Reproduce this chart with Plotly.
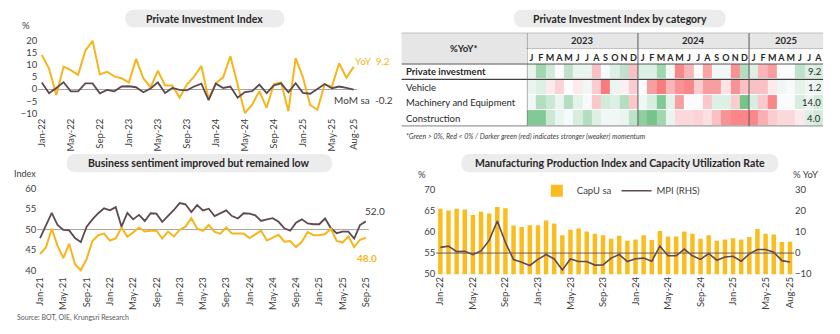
import plotly.graph_objects as go
import pandas as pd

W, H = 840, 334
def px(x): return x / W
def py(y): return 1 - y / H

FONT = "Lato"
YEL = "#F6B51B"
BAR = "#FBBC1E"
BRN = "#5D4A50"
TXT = "#404040"

# ---------------- data ----------------
pii_months = [d.strftime("%b-%y") for d in pd.date_range("2022-01-01", periods=44, freq="MS")]
pii_yoy = [14.1, 8.5, -2.4, 9.3, 7.9, 5.9, 15.9, 20.0, 6.1, 7.2,
           5.3, 4.5, 2.8, 12.5, 4.5, 0.8, 7.6, 1.5, 1.5, -3.5,
           1.9, 5.2, 9.6, -4.1, 2.5, 4.9, 13.6, 1.5, -9.9, -6.4,
           -0.8, -7.7, 2.1, 2.8, -9.1, 12.8, 5.0, -6.5, -8.5, 2.0,
           1.0, 10.7, 4.7, 9.2]
pii_mom = [2.8, -1.7, 0.5, 2.9, -0.9, -0.9, 2.4, 2.4, -1.7, -0.3,
           -0.9, 1.1, 1.2, 0.8, -1.3, 0.3, 2.8, -1.6, 0.5, -0.3,
           -0.5, 1.1, 2.3, -4.5, 2.3, 0.5, 1.1, -3.5, -1.2, -0.8,
           1.9, -1.6, 1.6, 2.4, -1.3, 2.5, -1.5, -1.9, 0.1, 2.1,
           0.4, 1.1, 0.5, -0.2]
pii_ticks = ["Jan-22", "May-22", "Sep-22", "Jan-23", "May-23", "Sep-23", "Jan-24",
             "May-24", "Sep-24", "Jan-25", "May-25", "Aug-25"]

bsi_months = [d.strftime("%b-%y") for d in pd.date_range("2021-01-01", periods=57, freq="MS")]
bsi_next = [47.9, 51.1, 54.1, 51.1, 49.9, 49.8, 47.9, 46.9, 50.7, 52.5,
            54.0, 55.2, 54.7, 55.5, 50.7, 54.1, 52.5, 53.6, 52.1, 54.0,
            53.9, 51.9, 53.3, 54.8, 56.5, 56.2, 54.3, 56.0, 54.7, 55.1,
            53.3, 54.0, 54.7, 53.3, 52.7, 54.0, 53.9, 53.5, 52.1, 52.5,
            52.8, 51.9, 50.3, 49.7, 51.7, 52.5, 51.5, 51.3, 51.3, 52.7,
            50.3, 49.1, 49.5, 49.5, 47.8, 51.1, 52.0]
bsi_now = [44.0, 45.6, 50.2, 46.0, 43.0, 46.5, 41.5, 40.0, 42.8, 47.2,
           48.6, 49.0, 47.3, 47.8, 50.5, 48.2, 49.3, 50.5, 49.5, 49.7,
           49.7, 47.8, 49.5, 48.3, 49.9, 50.7, 52.8, 50.2, 49.7, 51.1,
           49.4, 49.0, 50.5, 49.0, 49.0, 49.0, 47.9, 48.7, 49.7, 47.3,
           47.9, 48.7, 47.0, 47.2, 45.7, 47.0, 49.4, 48.6, 48.6, 48.9,
           50.2, 47.2, 46.8, 48.3, 45.7, 47.5, 48.0]
bsi_ticks = ["Jan-21", "May-21", "Sep-21", "Jan-22", "May-22", "Sep-22", "Jan-23", "May-23",
             "Sep-23", "Jan-24", "May-24", "Sep-24", "Jan-25", "May-25", "Sep-25"]

heat_rows = ["Private investment", "Vehicle", "Machinery and Equipment", "Construction"]
heat_years = ["2023", "2024", "2025"]
heat_months = list("JFMAMJJASOND") * 2 + list("JFMAMJJA")
heat_private = [0.3, 1.5, 0.7, 0.0, 1.0, 0.3, 0.3, -1.0, 0.1, 0.5, 1.0, -1.0,
                0.5, 0.5, 1.5, 0.2, -2.0, -1.2, 0.0, -1.5, 0.2, 0.2, -1.8, 1.2,
                0.5, -1.2, -1.6, 0.05, 0.05, 1.0, 0.5, 0.6]
heat_vehicle = [0.3, 0.5, -0.3, -0.7, 0.0, -0.3, 0.2, -0.8, -2.2, 0.3, -0.2, -0.8,
                0.0, -1.6, -2.2, -1.2, -1.8, -2.0, -0.8, -1.6, -1.6, -0.4, -1.8, -1.0,
                -1.0, -1.0, -0.3, 0.2, 0.1, 0.4, 0.2, 0.3]
heat_machinery = [0.2, 1.2, 0.8, 0.3, 1.2, 0.4, 0.1, -0.9, 0.7, 0.5, 1.2, -0.9,
                  0.2, 0.6, 2.0, 0.4, -1.6, 0.05, 0.05, -0.9, 0.5, 0.5, -0.8, 2.2,
                  0.6, -0.9, -2.0, 0.05, 0.05, 0.6, 0.3, 0.7]
heat_construction = [2.0, 2.0, 0.8, 0.3, 0.1, 0.6, 1.2, 0.5, 0.2, 0.2, 0.3, 1.0,
                     1.8, 2.2, 1.5, 0.3, -0.6, -0.6, -0.7, -0.5, -1.0, -1.8, -2.0, -2.0,
                     -2.0, -1.3, -0.8, -0.6, -0.6, -0.3, 0.5, 0.7]
heat_latest = ["9.2", "1.2", "14.0", "4.0"]

mpi_months = pii_months
capu_sa = [65.5, 65.1, 65.5, 65.3, 64.0, 64.8, 64.4, 65.9, 65.6, 61.5,
           61.2, 61.6, 61.6, 62.7, 62.0, 59.2, 60.5, 60.8, 60.1, 59.6,
           59.2, 58.4, 59.1, 57.9, 58.2, 59.2, 58.1, 60.2, 58.9, 58.9,
           60.1, 59.6, 58.4, 59.2, 57.9, 58.2, 58.5, 58.2, 58.8, 60.7,
           59.6, 59.4, 57.6, 57.7]
mpi_yoy = [2.7, 3.3, 0.7, 0.8, -0.7, 1.0, 6.0, 15.2, 5.0, -3.1,
           -4.4, -5.9, -3.0, -0.7, -2.8, -8.0, -2.8, -4.0, -4.0, -5.7,
           -5.6, -2.4, -0.7, -4.0, -2.7, -2.4, -3.9, 3.3, -1.3, -1.3,
           1.9, -1.3, -3.0, -0.2, -3.4, -1.9, -1.5, -3.9, -0.4, 1.7,
           1.7, 0.4, -3.6, -4.2]

# ---------------- traces ----------------
fig = go.Figure()

fig.add_trace(go.Scatter(x=pii_months, y=pii_yoy, mode="lines", line=dict(color=YEL, width=2),
                         xaxis="x", yaxis="y", showlegend=False, hoverinfo="skip"))
fig.add_trace(go.Scatter(x=pii_months, y=pii_mom, mode="lines", line=dict(color=BRN, width=1.8),
                         xaxis="x", yaxis="y", showlegend=False, hoverinfo="skip"))

fig.add_trace(go.Scatter(x=bsi_months, y=bsi_next, mode="lines", line=dict(color=BRN, width=1.8),
                         xaxis="x2", yaxis="y2", showlegend=False, hoverinfo="skip"))
fig.add_trace(go.Scatter(x=bsi_months, y=bsi_now, mode="lines", line=dict(color=YEL, width=2),
                         xaxis="x2", yaxis="y2", showlegend=False, hoverinfo="skip"))

heat_z = [heat_private, heat_vehicle, heat_machinery, heat_construction]
fig.add_trace(go.Heatmap(z=heat_z, x=list(range(len(heat_months))), y=list(range(len(heat_rows))),
                         colorscale=[[0, "#F8696B"], [0.5, "#FCFCFF"], [1, "#63BE7B"]],
                         zmin=-2.5, zmax=2.5, showscale=False, ygap=1,
                         xaxis="x3", yaxis="y3", hoverinfo="skip"))

fig.add_trace(go.Bar(x=mpi_months, y=capu_sa, marker=dict(color=BAR, line=dict(width=0)), width=0.55,
                     name="CapU sa", xaxis="x4", yaxis="y4", hoverinfo="skip"))
fig.add_trace(go.Scatter(x=mpi_months, y=mpi_yoy, mode="lines", line=dict(color=BRN, width=1.6),
                         name="MPI (RHS)", xaxis="x4", yaxis="y5", hoverinfo="skip"))

tickfont = dict(family=FONT, size=9.5, color=TXT)
xcommon = dict(showgrid=False, zeroline=False, showline=False, ticks="", tickangle=-90,
               tickfont=tickfont, type="category", fixedrange=True)
ycommon = dict(showgrid=False, zeroline=False, showline=False, ticks="", tickfont=tickfont, fixedrange=True)

layout = dict(
    width=W, height=H, margin=dict(l=0, r=0, t=0, b=0),
    paper_bgcolor="white", plot_bgcolor="white",
    font=dict(family=FONT, color=TXT),
    xaxis=dict(xcommon, domain=[px(35.4), px(356.4)], anchor="y", range=[-0.5, 43.5],
               tickvals=pii_ticks, ticktext=pii_ticks),
    yaxis=dict(ycommon, domain=[py(113.5), py(33.5)], anchor="x", range=[-11, 21],
               tickvals=[-10, -5, 0, 5, 10, 15, 20], zeroline=True, zerolinecolor="#A6A6A6", zerolinewidth=1),
    xaxis2=dict(xcommon, domain=[px(34.4), px(367.9)], anchor="y2", range=[-0.5, 56.5],
                tickvals=bsi_ticks, ticktext=bsi_ticks),
    yaxis2=dict(ycommon, domain=[py(277.5), py(184.8)], anchor="x2", range=[39, 61],
                tickvals=[40, 45, 50, 55, 60]),
    xaxis3=dict(domain=[px(527), px(825)], anchor="y3", side="top", range=[-0.5, 31.5],
                tickvals=list(range(len(heat_months))), ticktext=[f"<b>{m}</b>" for m in heat_months],
                tickangle=0, showgrid=False, zeroline=False, showline=False, ticks="",
                tickfont=dict(family=FONT, size=9, color="#262626"), fixedrange=True),
    yaxis3=dict(domain=[py(124), py(60)], anchor="x3", range=[3.5, -0.5], showticklabels=False,
                showgrid=False, zeroline=False, showline=False, fixedrange=True),
    xaxis4=dict(xcommon, domain=[px(435.9), px(795.8)], anchor="y4", range=[-0.5, 43.5],
                tickvals=pii_ticks, ticktext=pii_ticks),
    yaxis4=dict(ycommon, domain=[py(277.3), py(190)], anchor="x4", range=[50, 70], dtick=5),
    yaxis5=dict(ycommon, overlaying="y4", side="right", anchor="x4", range=[-10, 30], dtick=10),
    legend=dict(orientation="h", x=px(537), y=py(176), xanchor="left", yanchor="top",
                font=dict(family=FONT, size=9.5, color=TXT), bgcolor="rgba(0,0,0,0)",
                itemwidth=30, traceorder="normal"),
    bargap=0.45,
)
fig.update_layout(**layout)

shapes = []
annotations = []

def pill(x0, y0, x1, y1, text):
    r = (y1 - y0) / 2
    rx, ry = r / W, r / H
    X0, X1 = px(x0), px(x1)
    Yt, Yb = py(y0), py(y1)
    Ym = (Yt + Yb) / 2
    path = (f"M {X0+rx},{Yt} L {X1-rx},{Yt} Q {X1},{Yt} {X1},{Ym} Q {X1},{Yb} {X1-rx},{Yb} "
            f"L {X0+rx},{Yb} Q {X0},{Yb} {X0},{Ym} Q {X0},{Yt} {X0+rx},{Yt} Z")
    shapes.append(dict(type="path", path=path, xref="paper", yref="paper",
                       fillcolor="#ECECEC", line=dict(width=0), layer="below"))
    annotations.append(dict(x=(X0 + X1) / 2, y=Ym, xref="paper", yref="paper", text=f"<b>{text}</b>",
                            showarrow=False, font=dict(family=FONT, size=10.5, color="#262626"),
                            xanchor="center", yanchor="middle"))

pill(123, 4, 283, 22, "Private Investment Index")
pill(514, 4, 727, 22, "Private Investment Index by category")
pill(64, 153, 331, 172, "Business sentiment improved but remained low")
pill(461, 153, 780, 172, "Manufacturing Production Index and Capacity Utilization Rate")

def note(x, y, text, size=9.5, color=TXT, anchor="left", xref="paper", yref="paper"):
    annotations.append(dict(x=x, y=y, xref=xref, yref=yref, text=text, showarrow=False,
                            font=dict(family=FONT, size=size, color=color),
                            xanchor=anchor, yanchor="middle"))

# panel text
note(px(23), py(20), "%", anchor="center")
note(px(352), py(57), f"YoY  {pii_yoy[-1]:.1f}", size=10, color=YEL)
note(px(331), py(97), f"MoM sa  {pii_mom[-1]:.1f}", size=10)
note(px(22), py(173), "Index", size=9, anchor="center")
note(px(362), py(212), f"{bsi_next[-1]:.1f}", size=10)
note(px(354), py(261), f"<b>{bsi_now[-1]:.1f}</b>", size=10, color=YEL)
note(px(422), py(174), "%", anchor="center")
note(px(807), py(174), "% YoY", anchor="center")
note(px(12), py(322), "Source: BOT, OIE, Krungsri Research", size=7, color="#595959")
note(px(403), py(135), "<i>*Green > 0%, Red < 0% / Darker green (red) indicates stronger (weaker) momentum</i>",
     size=7, color="#404040")

# reference lines
shapes.append(dict(type="line", xref="x2 domain", yref="y2", x0=0, x1=1, y0=50, y1=50,
                   line=dict(color="#A6A6A6", width=1), layer="below"))
shapes.append(dict(type="line", xref="x4 domain", yref="y5", x0=0, x1=1, y0=0, y1=0,
                   line=dict(color="#6B5A5E", width=1)))

# table frame
shapes.append(dict(type="rect", xref="paper", yref="paper", x0=px(401), x1=px(526.5), y0=py(60), y1=py(28),
                   fillcolor="#E7E6E6", line=dict(width=0), layer="below"))
shapes.append(dict(type="rect", xref="paper", yref="paper", x0=px(526.5), x1=px(825), y0=py(44), y1=py(28),
                   fillcolor="#E7E6E6", line=dict(width=0), layer="below"))
def hline(y, x0, x1, color, width=1):
    shapes.append(dict(type="line", xref="paper", yref="paper", x0=px(x0), x1=px(x1), y0=py(y), y1=py(y),
                       line=dict(color=color, width=width)))
hline(28, 401, 825, "#BFBFBF")
hline(44, 526.5, 825, "#BFBFBF")
hline(60, 401, 825, "#595959")
hline(75.8, 401, 825, "#404040", 1.2)
hline(124, 401, 825, "#7F7F7F")
for xv in [-0.5, 11.5, 23.5]:
    shapes.append(dict(type="line", xref="x3", yref="paper", x0=xv, x1=xv, y0=py(28), y1=py(124),
                       line=dict(color="#595959", width=1)))

note(px(463.5), py(44), "<b>%YoY*</b>", size=9.5, color="#262626", anchor="center")
for yr, xc in zip(heat_years, [5.5, 17.5, 27.5]):
    note(xc, py(36), f"<b>{yr}</b>", size=9.5, color="#262626", anchor="center", xref="x3")
for i, row in enumerate(heat_rows):
    txt = f"<b>{row}</b>" if i == 0 else row
    note(px(403), i, txt, size=9.5, color="#262626", yref="y3")
    note(31.5, i, heat_latest[i], size=9.5, color="#262626", anchor="right", xref="x3", yref="y3")

fig.update_layout(shapes=shapes, annotations=annotations)
fig.write_html("out.html")
